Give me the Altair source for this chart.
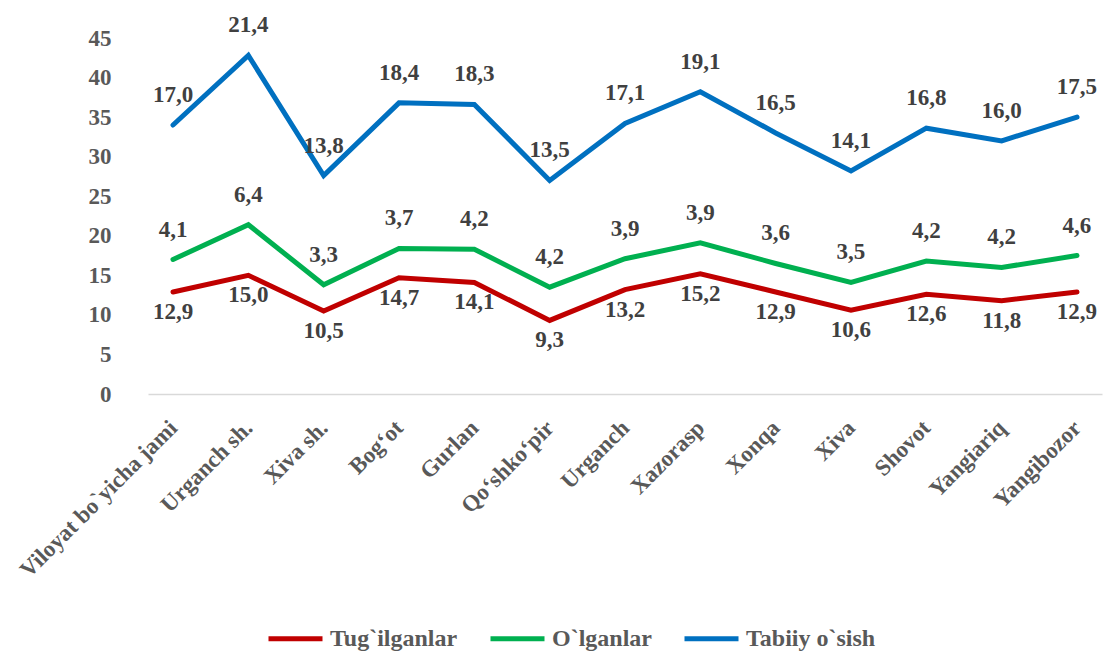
import altair as alt
import pandas as pd

regions = ["Viloyat bo`yicha jami", "Urganch sh.", "Xiva sh.", "Bog‘ot", "Gurlan",
           "Qo‘shko‘pir", "Urganch", "Xazorasp", "Xonqa", "Xiva", "Shovot",
           "Yangiariq", "Yangibozor"]
births = [12.9, 15.0, 10.5, 14.7, 14.1, 9.3, 13.2, 15.2, 12.9, 10.6, 12.6, 11.8, 12.9]
deaths = [4.1, 6.4, 3.3, 3.7, 4.2, 4.2, 3.9, 3.9, 3.6, 3.5, 4.2, 4.2, 4.6]
natural = [17.0, 21.4, 13.8, 18.4, 18.3, 13.5, 17.1, 19.1, 16.5, 14.1, 16.8, 16.0, 17.5]
series = ["Tug`ilganlar", "O`lganlar", "Tabiiy o`sish"]
colors = ["#C00000", "#00B050", "#0070C0"]

rows = []
for k, (name, vals) in enumerate(zip(series, [births, deaths, natural])):
    for r, v in zip(regions, vals):
        rows.append({"region": r, "series": name, "order": k, "value": v})
df = pd.DataFrame(rows)

FONT = "Liberation Serif"
FS = 23

base = alt.Chart(df).transform_window(
    cum="sum(value)", groupby=["region"], sort=[alt.SortField("order")],
    frame=[None, 0]
).transform_calculate(
    label="replace(format(datum.value, '.1f'), '.', ',')"
)

x = alt.X("region:N", sort=regions, title=None,
          scale=alt.Scale(padding=0.332),
          axis=alt.Axis(labelAngle=-45, labelAlign="right", labelBaseline="middle",
                        labelFont=FONT, labelFontSize=FS, labelFontWeight="bold",
                        labelColor="#595959", labelPadding=30, ticks=False,
                        domainColor="#D9D9D9", domainWidth=1.5, labelLimit=400))
y = alt.Y("cum:Q", title=None, scale=alt.Scale(domain=[0, 45], nice=False),
          axis=alt.Axis(values=list(range(0, 50, 5)), grid=False, domain=False,
                        ticks=False, labelFont=FONT, labelFontSize=FS,
                        labelFontWeight="bold", labelColor="#595959", labelPadding=37))

lines = base.mark_line(strokeWidth=5, strokeCap="round", strokeJoin="miter").encode(
    x=x, y=y,
    color=alt.Color("series:N", scale=alt.Scale(domain=series, range=colors),
                    sort=series,
                    legend=alt.Legend(title=None, orient="none", direction="horizontal",
                                      legendX=118, legendY=571,
                                      symbolType="stroke", symbolSize=2916,
                                      symbolStrokeWidth=5, labelFont=FONT,
                                      labelFontSize=24, labelFontWeight="bold",
                                      labelColor="#595959", labelOffset=5,
                                      columnPadding=22, padding=0)),
    detail="series:N",
)

text_below = base.transform_filter(alt.datum.order == 0).mark_text(
    dy=20, font=FONT, fontSize=FS, fontWeight="bold", color="#404040"
).encode(x=x, y=y, text="label:N")

text_above = base.transform_filter(alt.datum.order > 0).mark_text(
    dy=-30, font=FONT, fontSize=FS, fontWeight="bold", color="#404040"
).encode(x=x, y=y, text="label:N")

chart = alt.layer(lines, text_below, text_above).properties(
    width=954, height=356,
    autosize=alt.AutoSizeParams(type="none"),
    padding={"left": 140, "top": 30, "right": 3, "bottom": 259},
).configure(background="white").configure_view(stroke=None, strokeWidth=0)

chart.save("out.html", embed_options={"renderer": "svg", "actions": False})
